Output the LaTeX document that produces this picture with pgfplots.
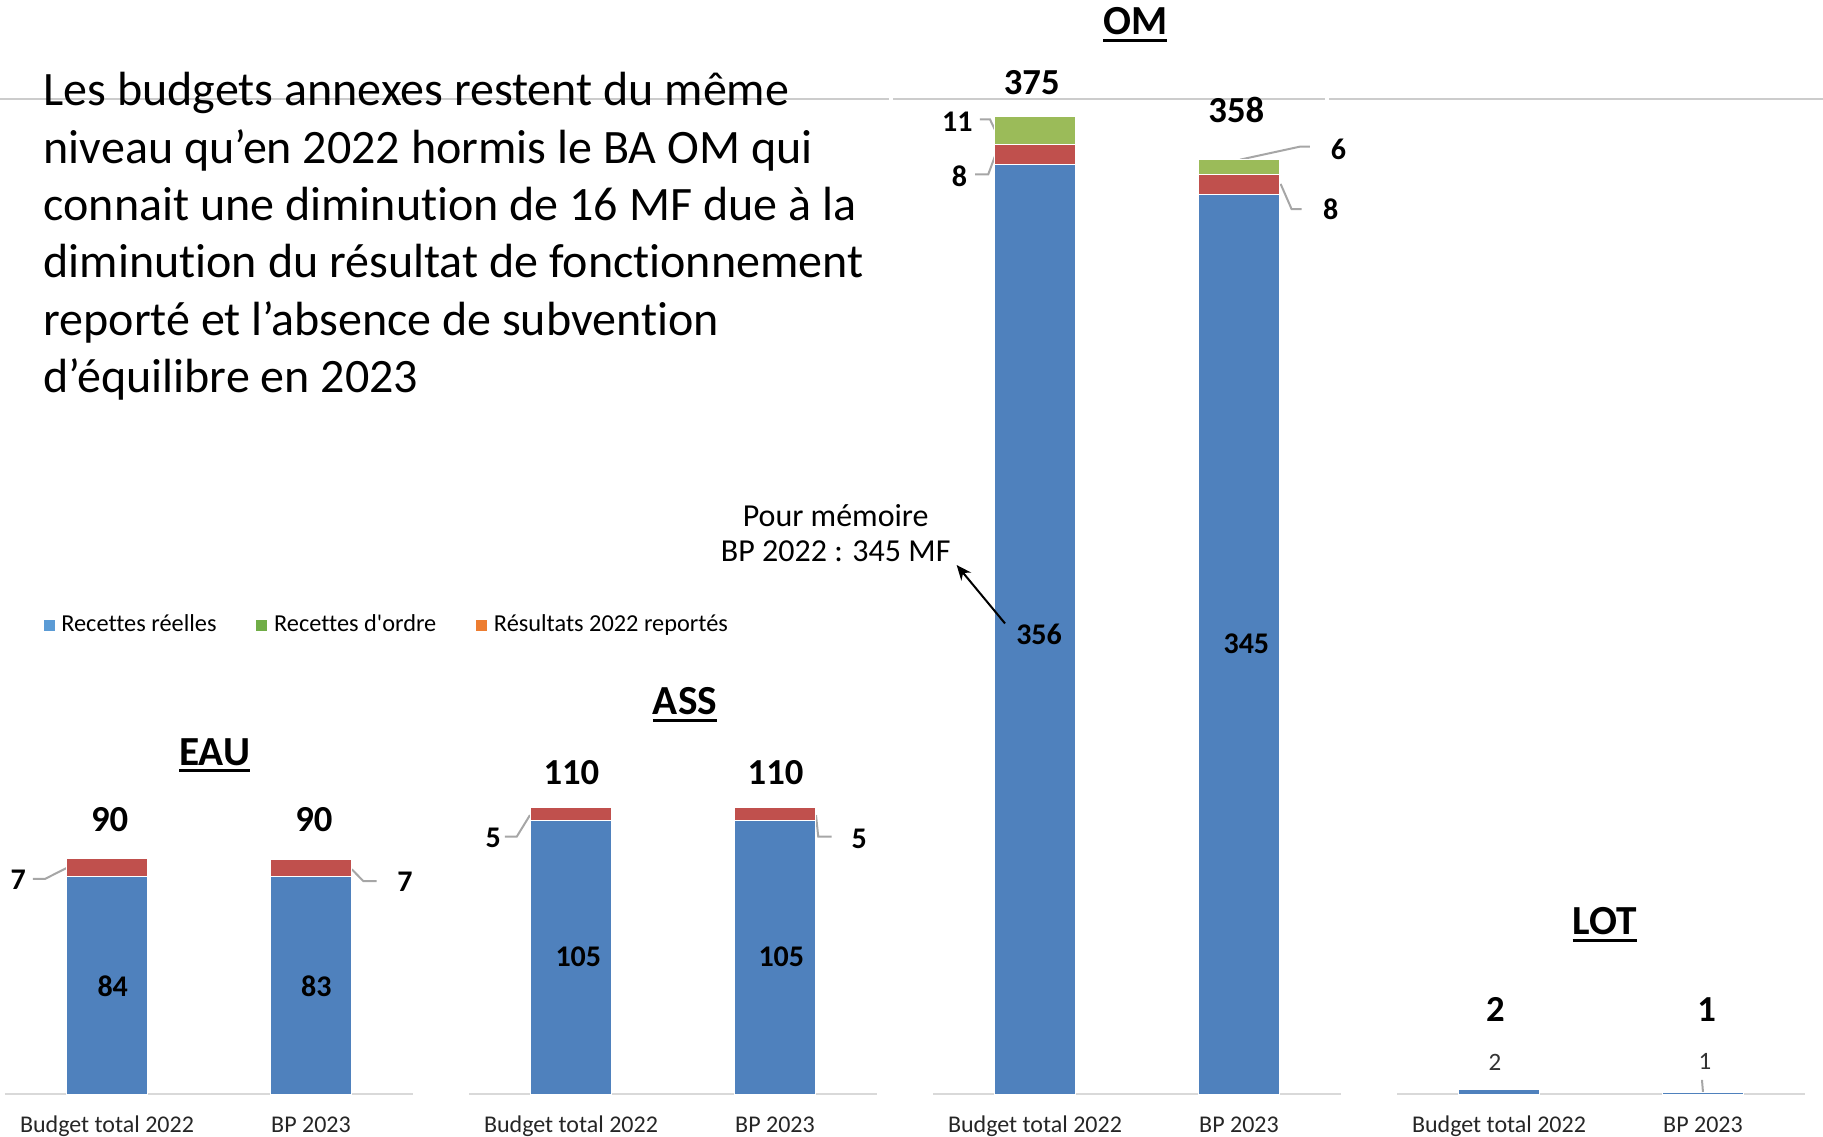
\documentclass[border=0pt]{standalone}
\usepackage{pgfplots}
\pgfplotsset{compat=1.18}
\usetikzlibrary{arrows.meta}
\usepackage{fontspec}
\setmainfont{Carlito}[Ligatures={TeX,NoCommon}]

\definecolor{barblue}{HTML}{4F81BD}
\definecolor{barred}{HTML}{C0504D}
\definecolor{bargreen}{HTML}{9BBB59}
\definecolor{legblue}{HTML}{5B9BD5}
\definecolor{leggreen}{HTML}{70AD47}
\definecolor{legorange}{HTML}{ED7D31}
\definecolor{axisgray}{HTML}{D9D9D9}
\definecolor{leadergray}{HTML}{A6A6A6}
\definecolor{rulegray}{HTML}{CCCCCC}

% underlined panel titles with a heavier rule
\newcommand{\ul}[1]{\setbox0\hbox{#1}\rlap{\rule[-2.2pt]{\wd0}{0.9pt}}\box0}

\pgfplotsset{
  panel/.style={
    scale only axis, width=122.4pt, height=312.84pt,
    xmin=-0.5, xmax=1.5, ymin=0, ymax=400,
    ybar stacked, bar width=0.395,
    axis x line*=bottom, hide y axis,
    x axis line style={draw=axisgray, line width=0.8pt, -},
    xtick={0,1}, xticklabels={Budget total 2022, BP 2023},
    major tick length=0pt,
    xticklabel style={font=\fontsize{7.2}{9}\selectfont, text=black!85, anchor=base, yshift=-11.4pt},
    clip=false, anchor=south west,
  },
  blue seg/.style={fill=barblue, draw=white, line width=0.3pt, forget plot},
  red seg/.style={fill=barred, draw=white, line width=0.3pt, forget plot},
  green seg/.style={fill=bargreen, draw=white, line width=0.3pt, forget plot},
}
\tikzset{
  ttl/.style={font=\fontsize{12.4}{14}\selectfont\bfseries, anchor=base, inner sep=0pt},
  tot/.style={font=\fontsize{11}{13}\selectfont\bfseries, inner sep=0pt},
  lab/.style={font=\fontsize{9}{11}\selectfont\bfseries, inner sep=0pt},
  sml/.style={font=\fontsize{7.5}{9}\selectfont, text=black!80, inner sep=0pt},
  leader/.style={draw=leadergray, line width=0.6pt},
  intro/.style={anchor=base west, inner sep=0pt, font=\fontsize{14.4}{17.2}\selectfont},
}

\begin{document}
\begin{tikzpicture}
\useasboundingbox (0,0) rectangle (546.9pt,340.8pt);
\clip (0,0) rectangle (546.9pt,340.8pt);

% thin rule across the slide
\draw[rulegray, line width=0.4pt] (0pt,311.1pt) -- (266.7pt,311.1pt);
\draw[rulegray, line width=0.4pt] (267.9pt,311.1pt) -- (397.5pt,311.1pt);
\draw[rulegray, line width=0.4pt] (398.7pt,311.1pt) -- (546.9pt,311.1pt);

% commentary
\node[intro] at (12.9pt,309.0pt) {Les budgets annexes restent du même};
\node[intro] at (12.9pt,291.8pt) {niveau qu’en 2022 hormis le BA OM qui};
\node[intro] at (12.9pt,274.6pt) {connait une diminution de 16 MF due à la};
\node[intro] at (12.9pt,257.4pt) {diminution du résultat de fonctionnement};
\node[intro] at (12.9pt,240.2pt) {reporté et l’absence de subvention};
\node[intro] at (12.9pt,223.0pt) {d’équilibre en 2023};

% ---------------- EAU ----------------
\begin{axis}[panel, at={(1.5pt,12.6pt)},
  legend style={at={(0.0931,0.4493)}, anchor=west, draw=none, fill=none,
    inner sep=0pt, font=\fontsize{7.3}{8.5}\selectfont,
    /tikz/every even column/.append style={column sep=10pt}},
  legend columns=3, legend cell align=left,
  legend image code/.code={\fill[#1] (0pt,-1.65pt) rectangle (3.3pt,1.65pt);},
]
\addlegendimage{fill=legblue, draw=none}
\addlegendentry{Recettes réelles}
\addlegendimage{fill=leggreen, draw=none}
\addlegendentry{Recettes d\textquotesingle ordre}
\addlegendimage{fill=legorange, draw=none}
\addlegendentry{Résultats 2022 reportés}
\addplot[blue seg] coordinates {(0,83.6) (1,83.4)};
\addplot[red seg] coordinates {(0,6.6) (1,6.6)};
\node[ttl] at (axis cs:0.528,126.2) {\ul{EAU}};
\node[tot] at (axis cs:0.013,105.2) {90};
\node[tot] at (axis cs:1.014,105.2) {90};
\coordinate (eauA) at (axis cs:0.028,41.2);
\coordinate (eauB) at (axis cs:1.026,41.2);
\node[lab] at (axis cs:-0.435,82.2) {7};
\node[lab] at (axis cs:1.461,81.5) {7};
\draw[leader] (axis cs:-0.363,82.5) -- (axis cs:-0.304,82.5) -- (axis cs:-0.198,86.7);
\draw[leader] (axis cs:1.2,86.2) -- (axis cs:1.256,81.7) -- (axis cs:1.322,81.7);
\end{axis}
\node[lab] at (eauA) {84};
\node[lab] at (eauB) {83};

% ---------------- ASS ----------------
\begin{axis}[panel, at={(140.7pt,12.6pt)}]
\addplot[blue seg] coordinates {(0,105) (1,105)};
\addplot[red seg] coordinates {(0,5) (1,5)};
\node[ttl] at (axis cs:0.559,145.4) {\ul{ASS}};
\node[tot] at (axis cs:0.002,123.1) {110};
\node[tot] at (axis cs:1.003,123.1) {110};
\coordinate (assA) at (axis cs:0.036,52.6);
\coordinate (assB) at (axis cs:1.031,52.6);
\node[lab] at (axis cs:-0.381,98.4) {5};
\node[lab] at (axis cs:1.413,97.9) {5};
\draw[leader] (axis cs:-0.324,98.7) -- (axis cs:-0.266,98.7) -- (axis cs:-0.201,107.0);
\draw[leader] (axis cs:1.201,107.0) -- (axis cs:1.212,98.7) -- (axis cs:1.278,98.7);
\end{axis}
\node[lab] at (assA) {105};
\node[lab] at (assB) {105};

% ---------------- OM ----------------
\begin{axis}[panel, at={(279.9pt,12.6pt)}]
\addplot[blue seg] coordinates {(0,356.4) (1,345.2)};
\addplot[red seg] coordinates {(0,7.8) (1,7.6)};
\addplot[green seg] coordinates {(0,10.8) (1,5.6)};
\node[ttl] at (axis cs:0.492,406.5) {\ul{OM}};
\node[tot] at (axis cs:-0.016,388.0) {375};
\node[tot] at (axis cs:0.987,377.4) {358};
\coordinate (omA) at (axis cs:0.02,176.3);
\coordinate (omB) at (axis cs:1.036,172.6);
\coordinate (arrowFrom) at (axis cs:-0.147,180.5);
\coordinate (arrowTo) at (axis cs:-0.384,202.9);
\node[lab] at (axis cs:-0.381,372.8) {11};
\node[lab] at (axis cs:-0.370,352.2) {8};
\node[lab] at (axis cs:1.487,362.4) {6};
\node[lab] at (axis cs:1.450,339.3) {8};
\draw[leader] (axis cs:-0.27,373.9) -- (axis cs:-0.221,373.9) -- (axis cs:-0.196,369.8);
\draw[leader] (axis cs:-0.294,352.8) -- (axis cs:-0.229,352.8) -- (axis cs:-0.196,359.8);
\draw[leader] (axis cs:1.348,363.4) -- (axis cs:1.299,363.4) -- (axis cs:1.005,358.4);
\draw[leader] (axis cs:1.204,349.1) -- (axis cs:1.258,339.4) -- (axis cs:1.307,339.4);
\node[anchor=base, inner sep=0pt, font=\fontsize{9.6}{11}\selectfont] at (axis cs:-0.977,217.6) {Pour mémoire};
\node[anchor=base, inner sep=0pt, font=\fontsize{9.6}{11}\selectfont] at (axis cs:-0.977,204.2) {BP 2022 : 345 MF};
\end{axis}
\node[lab] at (omA) {356};
\node[lab] at (omB) {345};
\draw[line width=0.6pt, -{Stealth[length=4.5pt, width=3.8pt]}] (arrowFrom) -- (arrowTo);

% ---------------- LOT ----------------
\begin{axis}[panel, at={(419.1pt,12.6pt)}]
\addplot[blue seg] coordinates {(0,1.6) (1,0.6)};
\node[ttl] at (axis cs:0.518,61.0) {\ul{LOT}};
\node[tot] at (axis cs:-0.018,32.3) {2};
\node[tot] at (axis cs:1.018,32.3) {1};
\node[sml] at (axis cs:-0.02,12.1) {2};
\node[sml] at (axis cs:1.01,12.5) {1};
\draw[leader] (axis cs:0.995,5.4) -- (axis cs:1.0,0.6);
\end{axis}
\end{tikzpicture}
\end{document}
